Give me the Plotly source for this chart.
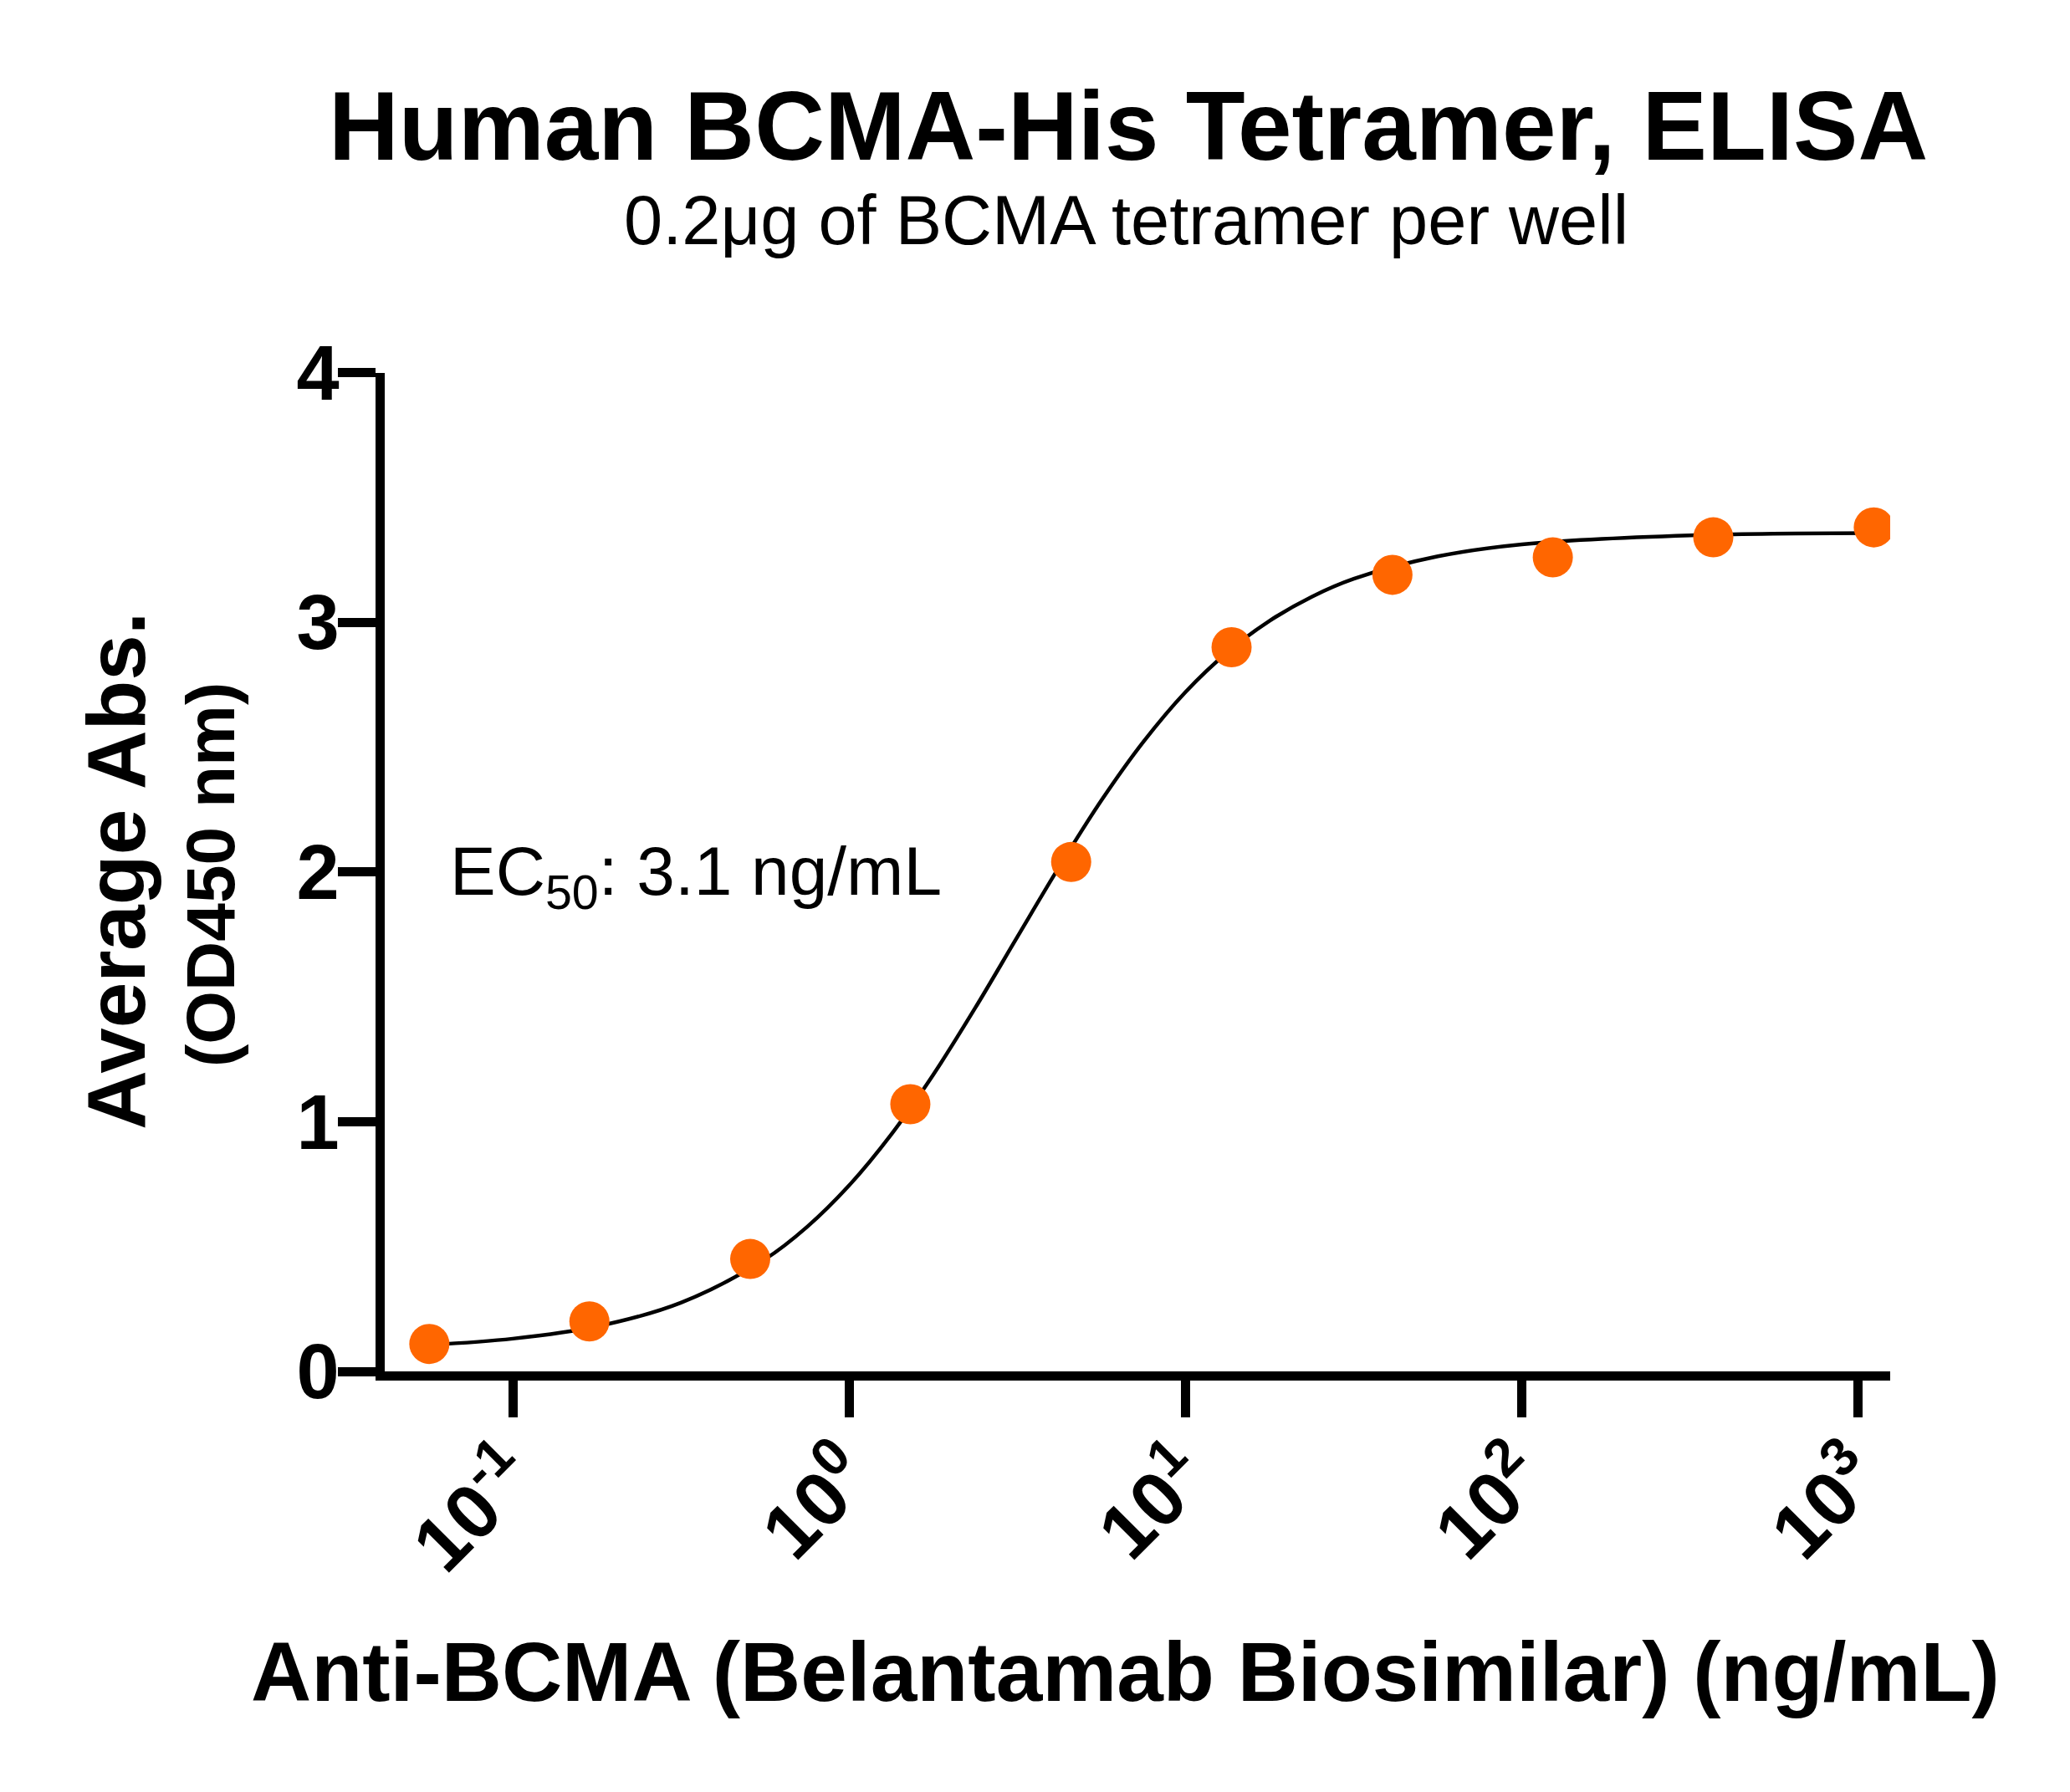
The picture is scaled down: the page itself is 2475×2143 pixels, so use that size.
import plotly.graph_objects as go

# measured points (3-fold dilution series, ng/mL) and mean OD450
conc = [0.0565, 0.169, 0.508, 1.52, 4.57, 13.7, 41.2, 123.5, 370.4, 1111.1]
od450 = [0.11, 0.20, 0.45, 1.07, 2.04, 2.90, 3.19, 3.26, 3.34, 3.38]

# fitted curve
fit_conc = [0.0565, 0.1, 0.178, 0.316, 0.562, 0.750, 1.0, 1.334, 1.778, 2.371,
            3.162, 4.217, 5.623, 7.499, 10.0, 13.34, 17.78, 23.71, 31.62, 56.23,
            100.0, 316.2, 1111.1]
fit_od = [0.106, 0.131, 0.180, 0.275, 0.449, 0.579, 0.745, 0.949, 1.188, 1.456,
          1.740, 2.022, 2.287, 2.522, 2.721, 2.881, 3.006, 3.102, 3.174, 3.264,
          3.312, 3.348, 3.357]

x_tickvals = [0.1, 1, 10, 100, 1000]
x_ticktext = ["10<sup>-1</sup>", "10<sup>0</sup>", "10<sup>1</sup>",
              "10<sup>2</sup>", "10<sup>3</sup>"]
y_tickvals = [0, 1, 2, 3, 4]

W, H = 2475, 2143
FONT = "Liberation Sans"
ORANGE = "#FF6600"


def px_x(p):
    return p / W


def px_y(p):
    return 1 - p / H


fig = go.Figure()
fig.add_trace(go.Scatter(
    x=fit_conc, y=fit_od, mode="lines",
    line=dict(color="black", width=4.5, shape="spline"),
    hoverinfo="skip",
))
fig.add_trace(go.Scatter(
    x=conc, y=od450, mode="markers",
    marker=dict(color=ORANGE, size=48, line=dict(width=0)),
))

tick_font = dict(family=FONT, size=92, color="black", weight="bold")

fig.update_layout(
    width=W, height=H,
    margin=dict(l=0, r=0, t=0, b=0),
    paper_bgcolor="white", plot_bgcolor="white",
    showlegend=False,
    xaxis=dict(
        type="log", range=[-1.3806, 3.0945],
        domain=[px_x(452), px_x(2252)],
        showline=True, linewidth=11, linecolor="black",
        ticks="outside", ticklen=44, tickwidth=11, tickcolor="black",
        tickvals=x_tickvals, ticktext=x_ticktext, tickangle=-45,
        tickfont=tick_font, ticklabelstandoff=-20,
        showgrid=False, zeroline=False, automargin=False,
    ),
    yaxis=dict(
        range=[0, 4],
        domain=[px_y(1632), px_y(437.5)],
        showline=True, linewidth=11, linecolor="black",
        ticks="outside", ticklen=45, tickwidth=11, tickcolor="black",
        tickvals=y_tickvals,
        tickfont=tick_font, ticklabelstandoff=-20,
        showgrid=False, zeroline=False, automargin=False,
    ),
)

annotations = [
    dict(text="<b>Human BCMA-His Tetramer, ELISA</b>", x=px_x(1341), y=px_y(143),
         font=dict(family=FONT, size=116, color="black")),
    dict(text="0.2μg of BCMA tetramer per well", x=px_x(1338), y=px_y(256),
         font=dict(family=FONT, size=83, color="black")),
    dict(text="<b>Anti-BCMA (Belantamab Biosimilar) (ng/mL)</b>", x=px_x(1337), y=px_y(1991),
         font=dict(family=FONT, size=100, color="black")),
    dict(text="<b>Average Abs.</b>", x=px_x(131), y=px_y(1034), textangle=-90,
         font=dict(family=FONT, size=98, color="black")),
    dict(text="<b>(OD450 nm)</b>", x=px_x(243), y=px_y(1038), textangle=-90,
         font=dict(family=FONT, size=82, color="black")),
    dict(text="EC<sub>50</sub>: 3.1 ng/mL", x=px_x(528), y=px_y(1039), xanchor="left",
         font=dict(family=FONT, size=82, color="black")),
]
for a in annotations:
    a.setdefault("xanchor", "center")
    fig.add_annotation(xref="paper", yref="paper", yanchor="middle",
                       showarrow=False, **a)

fig.write_html("out.html")
